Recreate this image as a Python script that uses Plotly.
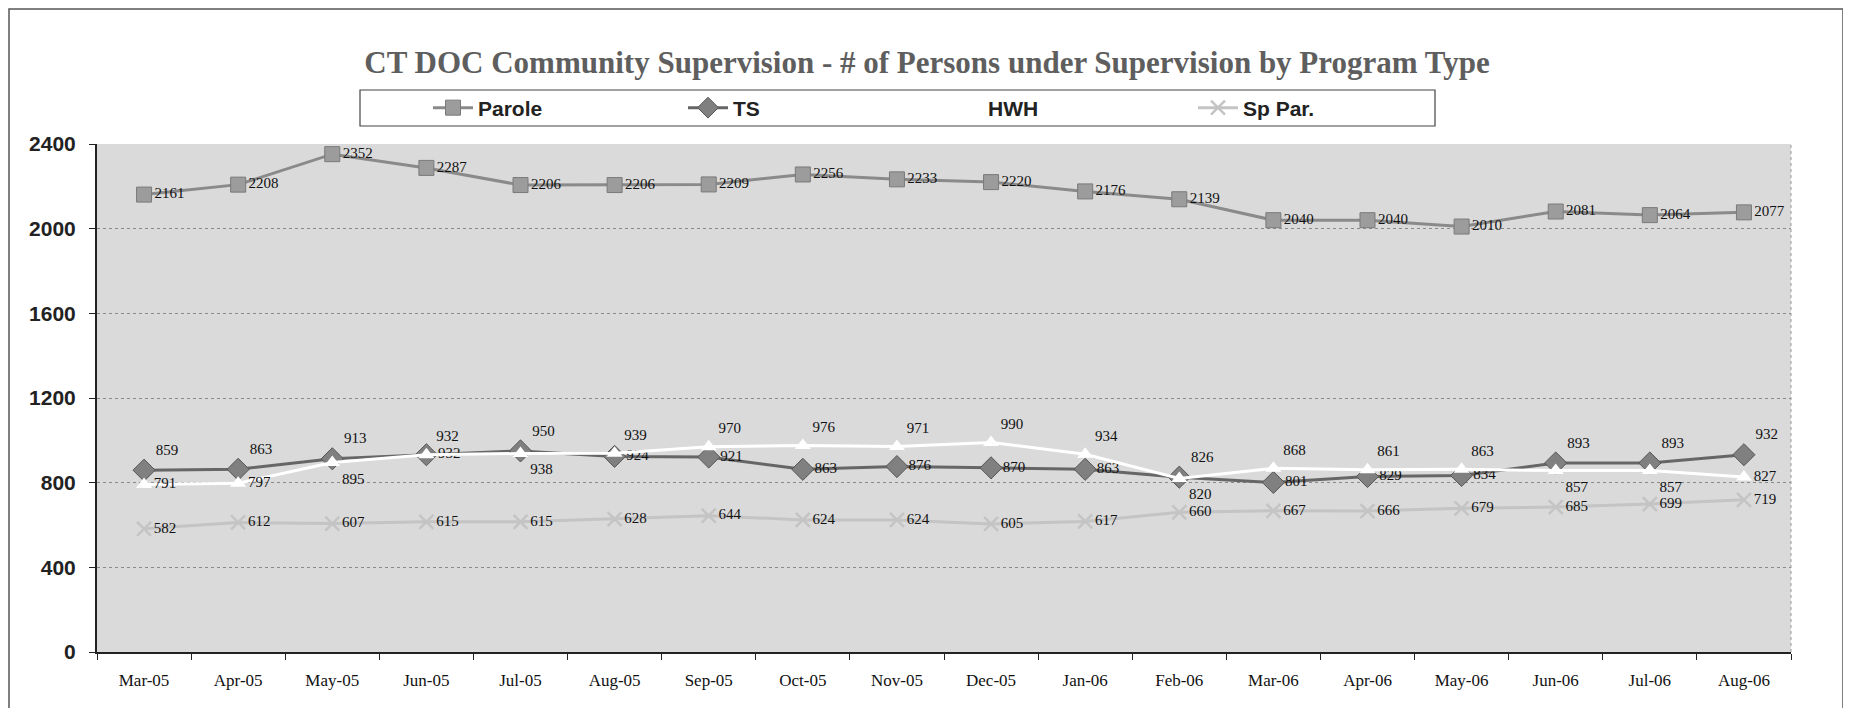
import plotly.graph_objects as go

months = ["Mar-05", "Apr-05", "May-05", "Jun-05", "Jul-05", "Aug-05", "Sep-05", "Oct-05", "Nov-05",
          "Dec-05", "Jan-06", "Feb-06", "Mar-06", "Apr-06", "May-06", "Jun-06", "Jul-06", "Aug-06"]
parole = [2161, 2208, 2352, 2287, 2206, 2206, 2209, 2256, 2233, 2220, 2176, 2139, 2040, 2040, 2010, 2081, 2064, 2077]
ts = [859, 863, 913, 932, 950, 924, 921, 863, 876, 870, 863, 826, 801, 829, 834, 893, 893, 932]
hwh = [791, 797, 895, 932, 938, 939, 970, 976, 971, 990, 934, 820, 868, 861, 863, 857, 857, 827]
sp_par = [582, 612, 607, 615, 615, 628, 644, 624, 624, 605, 617, 660, 667, 666, 679, 685, 699, 719]
y_ticks = [0, 400, 800, 1200, 1600, 2000, 2400]

SERIF = "Liberation Serif, Times New Roman, serif"
SANS = "Liberation Sans Narrow, Arial Narrow, Liberation Sans, Arial, sans-serif"
label_font = dict(family=SERIF, size=15, color="#111")

# label placement: whichever of TS / HWH is higher gets its label above
ts_pos = ["top right" if t > h else "middle right" for t, h in zip(ts, hwh)]
hwh_pos = ["top right" if h >= t else ("middle right" if t - h > 60 else "bottom right")
           for t, h in zip(ts, hwh)]

fig = go.Figure()
fig.add_trace(go.Scatter(
    x=months, y=parole, name="Parole", mode="lines+markers+text",
    line=dict(color="#8a8a8a", width=3),
    marker=dict(symbol="square", size=15, color="#9c9c9c", line=dict(color="#7a7a7a", width=1)),
    text=[str(v) for v in parole], textposition="middle right", textfont=label_font,
))
fig.add_trace(go.Scatter(
    x=months, y=ts, name="TS", mode="lines+markers+text",
    line=dict(color="#666666", width=3),
    marker=dict(symbol="diamond", size=17, color="#808080", line=dict(color="#555", width=1)),
    text=[str(v) for v in ts], textposition=ts_pos, textfont=label_font,
))
fig.add_trace(go.Scatter(
    x=months, y=hwh, name="HWH", mode="lines+markers+text",
    line=dict(color="#ffffff", width=3),
    marker=dict(symbol="triangle-up", size=14, color="#ffffff"),
    text=[str(v) for v in hwh], textposition=hwh_pos, textfont=label_font,
))
fig.add_trace(go.Scatter(
    x=months, y=sp_par, name="Sp Par.", mode="lines+markers+text",
    line=dict(color="#c4c4c4", width=3),
    marker=dict(symbol="x-thin", size=14, color="#c4c4c4", line=dict(color="#c4c4c4", width=2.5)),
    text=[str(v) for v in sp_par], textposition="middle right", textfont=label_font,
))

# pixel geometry (page body adds an 8px offset)
L, R, T, B = 89, 68, 136, 64
W, H = 1851, 708
pw, ph = W - L - R, H - T - B


def px(x):
    return (x - 8 - L) / pw


def py(y):
    return (H - B + 8 - y) / ph


fig.update_layout(
    width=W, height=H,
    margin=dict(l=L, r=R, t=T, b=B),
    paper_bgcolor="#ffffff",
    plot_bgcolor="#dadada",
    title=dict(
        text="<b>CT DOC Community Supervision - # of Persons under Supervision by Program Type</b>",
        x=(927 - 8) / W, xref="container", xanchor="center",
        y=1 - (62 - 8) / H, yref="container", yanchor="middle",
        font=dict(family=SERIF, size=31, color="#5e5e5e"),
    ),
    legend=dict(
        orientation="h", x=px(428), xanchor="left", y=py(108), yanchor="middle",
        bgcolor="rgba(0,0,0,0)", borderwidth=0,
        font=dict(family=SANS, size=21, color="#222", weight="bold"),
        entrywidth=200, entrywidthmode="pixels",
        itemwidth=40,
    ),
    showlegend=True,
)
fig.update_xaxes(
    type="category", range=[-0.5, 17.5],
    showline=True, linecolor="#222", linewidth=2,
    ticks="outside", tickson="boundaries", ticklen=6, tickcolor="#222",
    ticklabelstandoff=12,
    showgrid=False,
    tickfont=dict(family=SERIF, size=17, color="#111"),
)
fig.update_yaxes(
    range=[0, 2400], tickvals=y_ticks,
    showline=True, linecolor="#222", linewidth=2,
    ticks="outside", ticklen=6, tickcolor="#222",
    ticklabelstandoff=9,
    showgrid=True, gridcolor="#8a8a8a", griddash="dot", gridwidth=1,
    zeroline=False,
    tickfont=dict(family=SANS, size=21, color="#222", weight="bold"),
)
# outer page frame, legend box and plot area right edge
fig.add_shape(type="rect", xref="paper", yref="paper", x0=px(9), x1=px(1843), y0=py(760), y1=py(9),
              line=dict(color="#555", width=1.5), fillcolor="rgba(0,0,0,0)", layer="below")
fig.add_shape(type="rect", xref="paper", yref="paper", x0=px(360), x1=px(1435), y0=py(126), y1=py(90),
              line=dict(color="#444", width=1.2), fillcolor="#ffffff", layer="below")
fig.add_shape(type="line", xref="paper", yref="paper", x0=1, x1=1, y0=0, y1=1,
              line=dict(color="#999", width=1, dash="dot"))

fig.write_html("out.html")
